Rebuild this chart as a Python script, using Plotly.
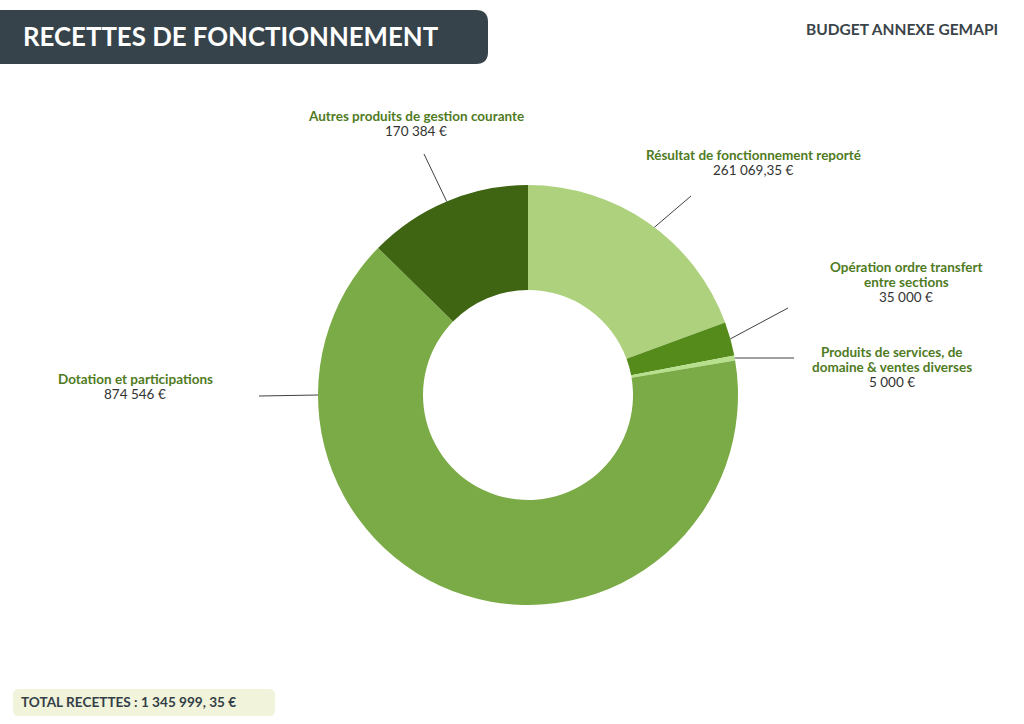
import math
import plotly.graph_objects as go

# ---- data ----
categories = [
    "Résultat de fonctionnement reporté",
    "Opération ordre transfert<br>entre sections",
    "Produits de services, de<br>domaine & ventes diverses",
    "Dotation et participations",
    "Autres produits de gestion courante",
]
values = [261069.35, 35000, 5000, 874546, 170384]
value_labels = ["261 069,35 €", "35 000 €", "5 000 €", "874 546 €", "170 384 €"]
colors = ["#ADD17D", "#548B1A", "#B6E08C", "#7BAB46", "#3F6512"]

title_text = "RECETTES DE FONCTIONNEMENT"
subtitle_text = "BUDGET ANNEXE GEMAPI"
total_text = "TOTAL RECETTES : 1 345 999, 35 €"

# ---- layout constants (pixels) ----
W, H = 1024, 724
CX, CY, R = 528, 395, 210
FONT = "Lato"
LABEL_GREEN = "#4F7B1F"
VALUE_GREY = "#333333"
LINE_H = 15

# label placement: (label centre x, y of value line, leader end x, leader end y, anchor angle override)
label_pos = [
    (753, 170, 691, 196, 37.0),
    (906, 297, 788, 308, None),
    (892, 382, 794, 358, None),
    (135, 394, 259, 396, 270.0),
    (416, 131, 424, 154, None),
]

fig = go.Figure()
fig.add_trace(go.Pie(
    labels=categories, values=values, sort=False, direction="clockwise",
    rotation=0, hole=0.5, textinfo="none", hoverinfo="skip",
    marker=dict(colors=colors, line=dict(width=0)),
    domain=dict(x=[(CX - R) / W, (CX + R) / W],
                y=[(H - CY - R) / H, (H - CY + R) / H]),
    showlegend=False,
))

shapes = []
annotations = []

total = sum(values)
cum = 0.0
for cat, v, vl, (lx, ly, ex, ey, ang_override) in zip(categories, values, value_labels, label_pos):
    mid = (cum + v / 2) / total * 360.0
    cum += v
    ang = math.radians(ang_override if ang_override is not None else mid)
    sx = CX + R * math.sin(ang)
    sy = CY - R * math.cos(ang)
    shapes.append(dict(type="line", xref="x", yref="y", x0=sx, y0=sy, x1=ex, y1=ey,
                       line=dict(color="#404040", width=1)))
    lines = cat.split("<br>")
    for i, ln in enumerate(lines):
        yy = ly - LINE_H * (len(lines) - i)
        annotations.append(dict(
            x=lx, y=yy, xref="x", yref="y", showarrow=False, xanchor="center", yanchor="middle",
            text=f"<b>{ln}</b>", font=dict(family=FONT, size=13.5, color=LABEL_GREEN)))
    annotations.append(dict(
        x=lx, y=ly, xref="x", yref="y", showarrow=False, xanchor="center", yanchor="middle",
        text=vl, font=dict(family=FONT, size=13.5, color=VALUE_GREY)))

# title box with rounded right corners
r = 12
x0, x1, y0, y1 = -5, 488, 10, 64
shapes.append(dict(
    type="path", xref="x", yref="y", layer="below",
    path=f"M {x0} {y0} L {x1 - r} {y0} Q {x1} {y0} {x1} {y0 + r} L {x1} {y1 - r} "
         f"Q {x1} {y1} {x1 - r} {y1} L {x0} {y1} Z",
    fillcolor="#36434B", line=dict(width=0)))
annotations.append(dict(x=21, y=36, xref="x", yref="y", xanchor="left", yanchor="middle",
                        showarrow=False, text=f"<b>{title_text}</b>",
                        font=dict(family=FONT, size=25.8, color="white")))
annotations.append(dict(x=1000, y=29, xref="x", yref="y", xanchor="right", yanchor="middle",
                        showarrow=False, text=f"<b>{subtitle_text}</b>",
                        font=dict(family=FONT, size=15.5, color="#3A4449")))

# total box
r2 = 6
bx0, bx1, by0, by1 = 13, 275, 689, 716
shapes.append(dict(
    type="path", xref="x", yref="y", layer="below",
    path=f"M {bx0 + r2} {by0} L {bx1 - r2} {by0} Q {bx1} {by0} {bx1} {by0 + r2} "
         f"L {bx1} {by1 - r2} Q {bx1} {by1} {bx1 - r2} {by1} L {bx0 + r2} {by1} "
         f"Q {bx0} {by1} {bx0} {by1 - r2} L {bx0} {by0 + r2} Q {bx0} {by0} {bx0 + r2} {by0} Z",
    fillcolor="#F1F4DA", line=dict(width=0)))
annotations.append(dict(x=19, y=702, xref="x", yref="y", xanchor="left", yanchor="middle",
                        showarrow=False, text=f"<b>{total_text}</b>",
                        font=dict(family=FONT, size=13.6, color="#333F48")))

fig.update_layout(
    width=W, height=H, margin=dict(l=0, r=0, t=0, b=0),
    paper_bgcolor="white", plot_bgcolor="rgba(0,0,0,0)",
    xaxis=dict(range=[0, W], visible=False, fixedrange=True),
    yaxis=dict(range=[H, 0], visible=False, fixedrange=True),
    shapes=shapes, annotations=annotations,
)
fig.write_html("out.html", config={"displayModeBar": False},
               post_script="document.body.style.margin='0';document.body.style.overflow='hidden';")
